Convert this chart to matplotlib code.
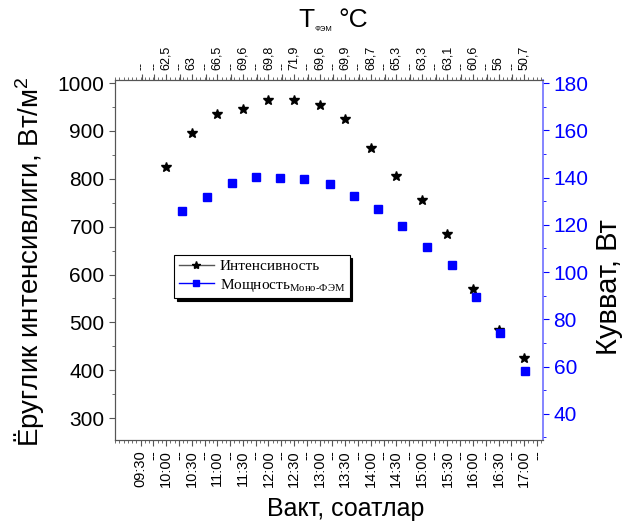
import matplotlib.pyplot as plt
from matplotlib.lines import Line2D
from matplotlib.ticker import MultipleLocator

plt.rcParams['font.family'] = ['Liberation Sans', 'DejaVu Sans']
plt.rcParams['mathtext.fontset'] = 'custom'
plt.rcParams['mathtext.rm'] = 'Liberation Serif'
plt.rcParams['mathtext.it'] = 'Liberation Serif:italic'


def hours(s):
    h, m = s.split(':')
    return int(h) + int(m) / 60


# irradiance readings (W/m2), every half hour
times = ['10:00', '10:30', '11:00', '11:30', '12:00', '12:30', '13:00', '13:30',
         '14:00', '14:30', '15:00', '15:30', '16:00', '16:30', '17:00']
intensity = [825, 895, 935, 945, 965, 965, 955, 925, 865, 805, 755, 685, 570, 485, 425]

# module power (W)
power_times = ['10:19', '10:48', '11:17', '11:45', '12:14', '12:42', '13:12', '13:40',
               '14:09', '14:37', '15:06', '15:35', '16:04', '16:32', '17:01']
power = [125.8, 132.0, 137.6, 140.3, 139.9, 139.4, 137.4, 132.3,
         126.6, 119.7, 110.6, 102.9, 89.5, 74.0, 58.2]

# module temperature, degC (top axis)
temps = ['62,5', '63', '66,5', '69,6', '69,8', '71,9', '69,6', '69,9',
         '68,7', '65,3', '63,3', '63,1', '60,6', '56', '50,7']

time_labels = ['09:30'] + times

t = [hours(s) for s in times]
tp = [hours(s) for s in power_times]

fig = plt.figure(figsize=(6.25, 5.24), dpi=100)
ax = fig.add_axes([0.184, 0.160, 0.685, 0.687])
ax2 = ax.twinx()
ax3 = ax.twiny()

ax.plot(t, intensity, ls='none', marker='*', color='k', ms=7.5)
ax2.plot(tp, power, ls='none', marker='s', color='blue', ms=5.2)

ax.set_xlim(9.0, 17.37)
ax.set_ylim(254, 1006)
ax2.set_ylim(28.8, 181.3)
ax3.set_xlim(ax.get_xlim())

# bottom axis: time labels with "--" between them
xt, xl = [], []
for s in time_labels:
    h = hours(s)
    xt += [h, h + 0.25]
    xl += [s, '--']
ax.set_xticks(xt, xl, rotation=90, fontsize=10.5)
ax.xaxis.set_minor_locator(MultipleLocator(1 / 12))
ax.tick_params(axis='x', which='major', length=4, color='#555555')
ax.tick_params(axis='x', which='minor', length=2.5, color='#555555')

ax.yaxis.set_minor_locator(MultipleLocator(50))
ax.set_yticks(range(300, 1001, 100))
ax.tick_params(axis='y', which='major', labelsize=15, length=4, color='#555555')
ax.tick_params(axis='y', which='minor', length=2.5, color='#555555')

ax2.yaxis.set_minor_locator(MultipleLocator(10))
ax2.set_yticks(range(40, 181, 20))
ax2.tick_params(axis='y', which='major', labelsize=15, length=4,
                color='blue', labelcolor='blue')
ax2.tick_params(axis='y', which='minor', length=2.5, color='blue')

# top axis: module temperature
tt = [9.52] + [h - 0.23 for h in t] + t
tl = ['--'] + ['--'] * len(t) + temps
ax3.set_xticks(tt, tl, rotation=90, fontsize=9)
ax3.xaxis.set_minor_locator(MultipleLocator(1 / 12))
ax3.tick_params(axis='x', which='major', length=4, color='#555555')
ax3.tick_params(axis='x', which='minor', length=2.5, color='#555555')

for a in (ax, ax3):
    a.spines['right'].set_visible(False)
    for side in ('left', 'top', 'bottom'):
        a.spines[side].set_color('#555555')
for side in ('left', 'top', 'bottom'):
    ax2.spines[side].set_visible(False)
ax2.spines['right'].set_color('#6f6fff')
ax2.spines['right'].set_linewidth(1.2)

fig.text(0.046, 0.50, 'Ёруглик интенсивлиги, Вт/м$^{\\mathregular{2}}$',
         rotation=90, ha='center', va='center', fontsize=20)
fig.text(0.974, 0.452, 'Кувват, Вт', rotation=90, ha='center', va='center', fontsize=21)
fig.text(0.553, 0.005, 'Вакт, соатлар', ha='center', va='bottom', fontsize=18)

# top title: T with subscript, then degC
fig.text(0.477, 1 - 27 / 524, 'T', ha='left', va='baseline', fontsize=19)
fig.text(0.503, 1 - 31 / 524, 'ФЭМ', ha='left', va='baseline', fontsize=5.5)
fig.text(0.541, 1 - 27 / 524, '°C', ha='left', va='baseline', fontsize=19)

handles = [
    Line2D([], [], color='#555555', lw=1, marker='*', mfc='k', mec='k', ms=6),
    Line2D([], [], color='blue', lw=1, marker='s', ms=5),
]
labels = ['Интенсивность', 'Мощность$_{\\mathrm{Моно\u2010ФЭМ}}$']
leg = ax3.legend(handles, labels, loc='upper left', bbox_to_anchor=(0.12, 0.535),
                 prop={'family': 'Liberation Serif', 'size': 11},
                 fancybox=False, shadow={'color': 'k', 'alpha': 1},
                 edgecolor='k', framealpha=1, handlelength=2.3,
                 borderpad=0.3, labelspacing=0.2, handletextpad=0.4)
leg.get_frame().set_linewidth(0.8)

fig.savefig('out.png', dpi=100)
